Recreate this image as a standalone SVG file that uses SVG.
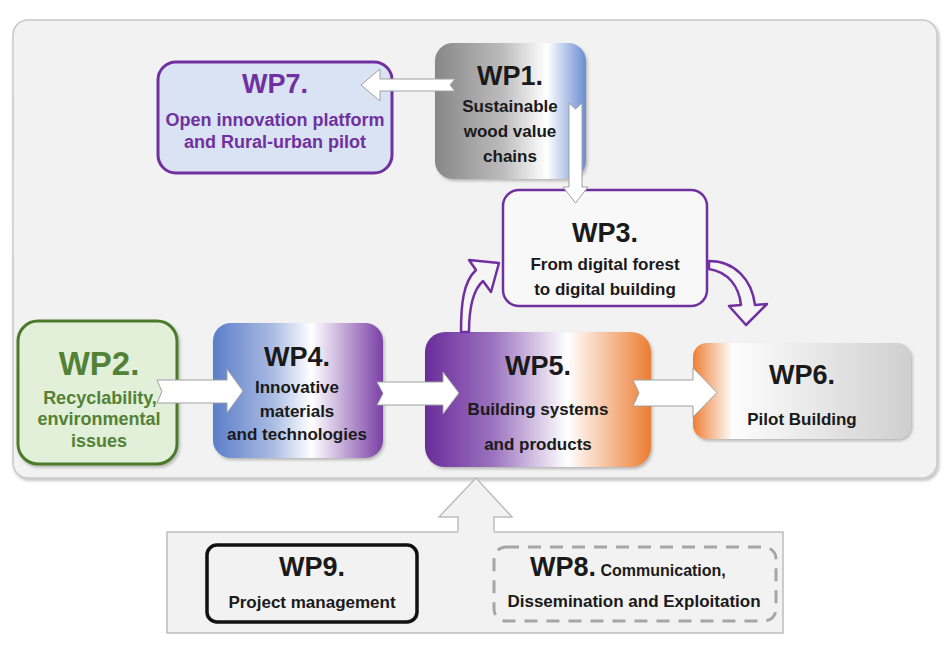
<svg xmlns="http://www.w3.org/2000/svg" width="950" height="650" viewBox="0 0 950 650">
<defs>
<style>
text{font-family:"Liberation Sans",Arial,sans-serif;font-weight:bold;text-anchor:middle;fill:#1a1a1a}
.t{font-size:27px}
.s{font-size:17px}
.pur{fill:#7030a0}
.grn{fill:#538135}
.blkw{fill:#ffffff;stroke:#a0a0a0;stroke-width:1}
.curve{fill:#f5f5f5;stroke:#7030a0;stroke-width:2.5;stroke-linejoin:round}
</style>
<filter id="sh" x="-10%" y="-10%" width="130%" height="130%">
<feDropShadow dx="1.5" dy="2" stdDeviation="1.5" flood-color="#000" flood-opacity="0.25"/>
</filter>
<linearGradient id="g1" x1="0" y1="0" x2="1" y2="0">
<stop offset="0" stop-color="#878787"/>
<stop offset="0.45" stop-color="#bcbcbc"/>
<stop offset="0.68" stop-color="#f2f2f2"/>
<stop offset="0.74" stop-color="#ffffff"/>
<stop offset="1" stop-color="#6a8dd2"/>
</linearGradient>
<linearGradient id="g4" x1="0" y1="0" x2="1" y2="0">
<stop offset="0" stop-color="#5b7dca"/>
<stop offset="0.35" stop-color="#a9bbe2"/>
<stop offset="0.58" stop-color="#ffffff"/>
<stop offset="1" stop-color="#7a40a6"/>
</linearGradient>
<linearGradient id="g5" x1="0" y1="0" x2="1" y2="0">
<stop offset="0" stop-color="#6a2c9a"/>
<stop offset="0.3" stop-color="#9b72bf"/>
<stop offset="0.63" stop-color="#ffffff"/>
<stop offset="1" stop-color="#ec7d32"/>
</linearGradient>
<linearGradient id="g6" x1="0" y1="0" x2="1" y2="0">
<stop offset="0" stop-color="#ee7f35"/>
<stop offset="0.18" stop-color="#fdfdfd"/>
<stop offset="1" stop-color="#cfcfcf"/>
</linearGradient>
</defs>
<rect width="950" height="650" fill="#ffffff"/>

<g id="main-area">
<rect x="13" y="20" width="924" height="458" rx="15" fill="#f2f2f2" stroke="#c9c9c9" stroke-width="1.5" filter="url(#sh)"/>
</g>

<g id="support-area">
<rect x="167" y="532" width="616" height="101" fill="#f2f2f2" stroke="#bdbdbd" stroke-width="1.5"/>
</g>

<g id="WP7">
<rect x="158" y="62" width="234" height="111" rx="18" fill="#dae3f3" stroke="#7030a0" stroke-width="3"/>
<text class="t pur" x="275" y="93">WP7.</text>
<text class="pur" x="275" y="126" style="font-size:18px">Open innovation platform</text>
<text class="pur" x="275" y="148" style="font-size:18px">and Rural-urban pilot</text>
</g>

<g id="WP1">
<rect x="435" y="43" width="151" height="136" rx="18" fill="url(#g1)" filter="url(#sh)"/>
<text class="t" x="510" y="85">WP1.</text>
<text class="s" x="510" y="112">Sustainable</text>
<text class="s" x="510" y="137">wood value</text>
<text class="s" x="510" y="162">chains</text>
</g>

<g id="WP3">
<rect x="503" y="190" width="204" height="116" rx="16" fill="#f8f8f8" stroke="#7030a0" stroke-width="2.5"/>
<text class="t" x="605" y="242">WP3.</text>
<text class="s" x="605" y="270">From digital forest</text>
<text class="s" x="605" y="295">to digital building</text>
</g>

<g id="WP2">
<rect x="18" y="321" width="159" height="143" rx="20" fill="#e2efd9" stroke="#4b7a2c" stroke-width="3" filter="url(#sh)"/>
<text class="grn" x="99" y="375" style="font-size:33px">WP2.</text>
<text class="grn" x="100" y="404" style="font-size:18px">Recyclability,</text>
<text class="grn" x="99" y="425" style="font-size:18px">environmental</text>
<text class="grn" x="99" y="447" style="font-size:18px">issues</text>
</g>

<g id="WP4">
<rect x="213" y="323" width="170" height="135" rx="18" fill="url(#g4)" filter="url(#sh)"/>
<text class="t" x="297" y="366">WP4.</text>
<text class="s" x="297" y="393">Innovative</text>
<text class="s" x="297" y="417">materials</text>
<text class="s" x="297" y="440">and technologies</text>
</g>

<g id="WP5">
<rect x="425" y="332" width="226" height="135" rx="20" fill="url(#g5)" filter="url(#sh)"/>
<text class="t" x="538" y="375">WP5.</text>
<text class="s" x="538" y="415">Building systems</text>
<text class="s" x="538" y="450">and products</text>
</g>

<g id="WP6">
<rect x="693" y="343" width="218" height="96" rx="14" fill="url(#g6)" filter="url(#sh)"/>
<text class="t" x="802" y="384">WP6.</text>
<text class="s" x="802" y="425">Pilot Building</text>
</g>

<g id="WP9">
<rect x="207" y="545" width="210" height="77" rx="10" fill="#f2f2f2" stroke="#111111" stroke-width="3.5"/>
<text class="t" x="312" y="576">WP9.</text>
<text class="s" x="312" y="608">Project management</text>
</g>

<g id="WP8">
<rect x="494" y="547" width="282" height="74" rx="12" fill="none" stroke="#a6a6a6" stroke-width="3" stroke-dasharray="13 9"/>
<text x="530" y="576" style="text-anchor:start"><tspan style="font-size:27px">WP8.</tspan><tspan style="font-size:16px"> Communication,</tspan></text>
<text class="s" x="634" y="607">Dissemination and Exploitation</text>
</g>

<g id="connectors">
<path class="blkw" d="M455,79 H380 V69 L361,85 L380,101 V91 H455 L450,85 Z"/>
<path class="blkw" d="M569,103 L575.5,109 L582,103 V187 H588 L575.5,203 L563,187 H569 Z"/>
<path class="blkw" d="M157,380 H227 V369 L243,391 L227,413 V403 H157 L162,391.5 Z"/>
<path class="blkw" d="M377,382 H443 V372 L459,393 L443,414 V405 H377 L383,393.5 Z"/>
<path class="blkw" d="M633,380 H693 V368 L717,392.5 L693,417 V406 H633 L639,393 Z"/>
<path class="curve" d="M461,332 C461,305 463,282 476,270 L469,260 L499,263 L491,292 L483,281 C474,289 469,305 469,332 Z"/>
<path class="curve" d="M709,261 C735,261 752,280 755,305 L767,304 L746,325 L729,306 L741,305 C739,286 728,272 709,269 Z"/>
<path d="M458,534 V517 H439 L476,478 L512,517 H494 V534 Z" fill="#f2f2f2" stroke="none"/>
<path d="M458,531.5 V517 H439 L476,478 L512,517 H494 V531.5" fill="none" stroke="#bdbdbd" stroke-width="1.5"/>
</g>
</svg>
